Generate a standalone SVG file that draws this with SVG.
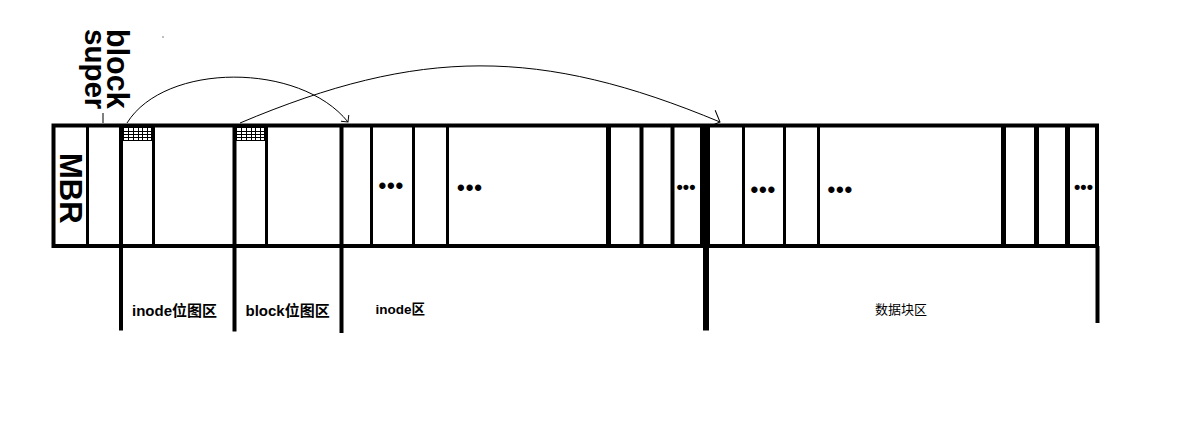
<svg xmlns="http://www.w3.org/2000/svg" width="1180" height="435" viewBox="0 0 1180 435">
<style>
.frame{fill:none;stroke:#000;stroke-width:4}
.s3{stroke:#000;stroke-width:3}
.s4{stroke:#000;stroke-width:4}
.s5{stroke:#000;stroke-width:5}
.s6{stroke:#000;stroke-width:6}
.s10{stroke:#000;stroke-width:10}
.grid{fill:none;stroke:#000;stroke-width:1;shape-rendering:crispEdges}
.big{font-family:"Liberation Sans","Noto Sans CJK SC",sans-serif;font-weight:bold;fill:#000}
.lbl{font-family:"Liberation Sans","Noto Sans CJK SC",sans-serif;font-weight:bold;font-size:15px;fill:#000}
.lbl2{font-family:"Noto Sans CJK SC",sans-serif;font-size:13px;fill:#000}
.dots{font-family:"Liberation Sans",sans-serif;font-weight:bold;fill:#000;text-anchor:middle;font-size:22px;letter-spacing:0.9px}
.dsm{font-family:"Liberation Sans",sans-serif;font-weight:bold;fill:#000;text-anchor:middle;font-size:18px;letter-spacing:0.1px}
.arc{fill:none;stroke:#000;stroke-width:1}
</style>
<defs>
<marker id="arrS" markerUnits="userSpaceOnUse" markerWidth="20" markerHeight="20" refX="0" refY="0" viewBox="-10 -10 20 20" orient="auto" overflow="visible">
<path d="M-5,-5 L0,0 L-5,5" fill="none" stroke="#000" stroke-width="1"/>
</marker>
<marker id="arrL" markerUnits="userSpaceOnUse" markerWidth="30" markerHeight="30" refX="0" refY="0" viewBox="-15 -15 30 30" orient="auto" overflow="visible">
<path d="M-9,-9 L0,0 L-9,9" fill="none" stroke="#000" stroke-width="1"/>
</marker>
<g id="gridcells">
<path class="grid" d="M0.5,0.5H28.5V13.5H0.5Z M5.5,0V14M10.5,0V14M15.5,0V14M19.5,0V14M24.5,0V14M0,4.5H29M0,7.5H29M0,10.5H29"/>
</g>
</defs>
<rect width="1180" height="435" fill="#fff"/>

<g id="disk">
<rect x="53.5" y="125.5" width="1043.5" height="120.5" class="frame"/>
</g>

<g id="mbr">
<text class="big" font-size="31" transform="translate(60,153) rotate(90)">MBR</text>
</g>

<g id="superblock">
<line x1="87.5" y1="125.5" x2="87.5" y2="246" class="s3"/>
<text class="big" font-size="30.5" transform="translate(107,29) rotate(90)">block</text>
<text class="big" font-size="29.5" transform="translate(84.5,29) rotate(90)">super</text>
<line x1="103" y1="113" x2="103" y2="123" stroke="#000" stroke-width="1"/>
<rect x="162.5" y="36.5" width="1" height="1" fill="#000"/>
</g>

<g id="inode-bitmap">
<line x1="121" y1="125.5" x2="121" y2="330.5" class="s4"/>
<line x1="153.5" y1="125.5" x2="153.5" y2="246" class="s3"/>
<use href="#gridcells" x="123" y="127"/>
<text class="lbl" x="132" y="316">inode位图区</text>
</g>

<g id="block-bitmap">
<line x1="234.5" y1="125.5" x2="234.5" y2="331.5" class="s4"/>
<line x1="266.5" y1="125.5" x2="266.5" y2="246" class="s3"/>
<use href="#gridcells" x="236" y="127"/>
<text class="lbl" x="245.5" y="316">block位图区</text>
</g>

<g id="inode-table">
<line x1="341.5" y1="125.5" x2="341.5" y2="333" class="s4"/>
<line x1="371.5" y1="125.5" x2="371.5" y2="246" class="s3"/>
<line x1="413.5" y1="125.5" x2="413.5" y2="246" class="s3"/>
<line x1="447.5" y1="125.5" x2="447.5" y2="246" class="s3"/>
<line x1="608.5" y1="125.5" x2="608.5" y2="246" class="s5"/>
<line x1="641.5" y1="125.5" x2="641.5" y2="246" class="s4"/>
<line x1="672.5" y1="125.5" x2="672.5" y2="246" class="s4"/>
<text class="dots" x="391.3" y="193">•••</text>
<text class="dots" x="470" y="195">•••</text>
<text class="dsm" x="686" y="192.5">•••</text>
<text class="lbl" x="375.5" y="314" style="font-size:13.5px">inode区</text>
</g>

<g id="data-blocks">
<line x1="705" y1="125.5" x2="705" y2="246" class="s10"/>
<line x1="706" y1="246" x2="706" y2="330.5" class="s6"/>
<line x1="743.5" y1="125.5" x2="743.5" y2="246" class="s3"/>
<line x1="784.5" y1="125.5" x2="784.5" y2="246" class="s3"/>
<line x1="818.5" y1="125.5" x2="818.5" y2="246" class="s3"/>
<line x1="1003.5" y1="125.5" x2="1003.5" y2="246" class="s5"/>
<line x1="1036.5" y1="125.5" x2="1036.5" y2="246" class="s5"/>
<line x1="1067.5" y1="125.5" x2="1067.5" y2="246" class="s5"/>
<line x1="1097.5" y1="246" x2="1097.5" y2="323" class="s4"/>
<text class="dots" x="763.3" y="196.5">•••</text>
<text class="dots" x="840.3" y="197">•••</text>
<text class="dsm" x="1083.5" y="192.5">•••</text>
<text class="lbl2" x="875" y="313.5">数据块区</text>
</g>

<g id="connectors">
<path class="arc" d="M127,123 C165,62 300,62 348,122" marker-end="url(#arrS)"/>
<path class="arc" d="M240,123 C420,47 540,47 720,122" marker-end="url(#arrL)"/>
</g>
</svg>
